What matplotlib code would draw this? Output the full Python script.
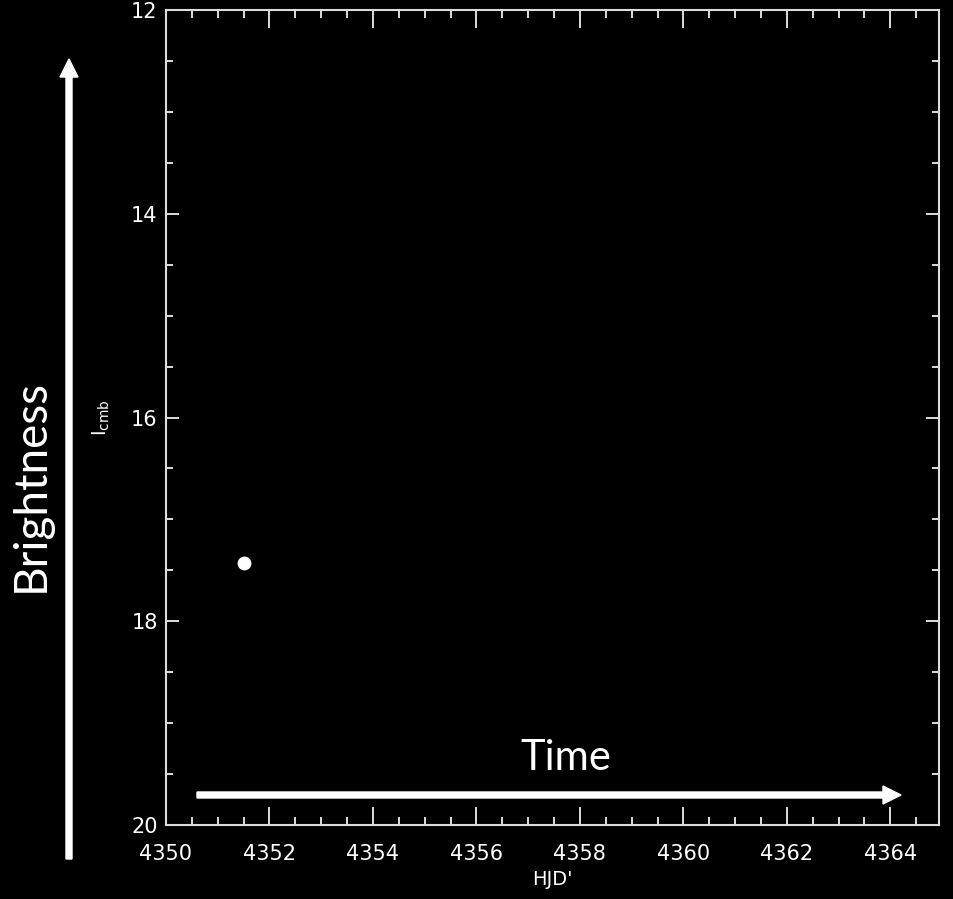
import matplotlib
matplotlib.use("Agg")
import matplotlib.pyplot as plt
from matplotlib.patches import FancyArrow
from matplotlib.transforms import IdentityTransform
from matplotlib.ticker import MultipleLocator

# data
hjd = [4351.51]
mag = [17.43]
x_ticks = [4350, 4352, 4354, 4356, 4358, 4360, 4362, 4364]
y_ticks = [12, 14, 16, 18, 20]

W, H = 954, 899
fig = plt.figure(figsize=(W / 100, H / 100), dpi=100, facecolor="black")
ax = fig.add_axes([166 / W, 1 - 825 / H, (939 - 166) / W, (825 - 10) / H])
ax.set_facecolor("black")

ax.plot(hjd, mag, "o", color="white", markersize=10, markeredgewidth=0)

ax.set_xlim(4350, 4364.94)
ax.set_ylim(20, 12)
ax.set_xticks(x_ticks)
ax.set_xticklabels([str(t) for t in x_ticks])
ax.set_yticks(y_ticks)
ax.set_yticklabels([str(t) for t in y_ticks])
ax.xaxis.set_minor_locator(MultipleLocator(0.5))
ax.yaxis.set_minor_locator(MultipleLocator(0.5))

sc = "#dcdcdc"
for s in ax.spines.values():
    s.set_color(sc)
    s.set_linewidth(1.5)
ax.tick_params(which="both", direction="in", colors=sc, width=1.4,
               top=True, right=True, labelcolor="white", labelsize=15)
ax.tick_params(axis="x", which="major", length=13, pad=14)
ax.tick_params(axis="x", which="minor", length=6)
ax.tick_params(axis="y", which="major", length=9.5, pad=6)
ax.tick_params(axis="y", which="minor", length=5)

ax.set_xlabel("HJD'", color="white", fontsize=14, labelpad=4)
ax.set_ylabel(r"$\mathrm{I}_{\rm cmb}$", color="white", fontsize=14, labelpad=14)

# annotations
fig.text(31 / W, 1 - 485 / H, "Brightness", rotation=90, color="white",
         fontsize=33, family="Lato", ha="center", va="center")
fig.text(566 / W, 1 - 758 / H, "Time", color="white",
         fontsize=30, family="Lato", ha="center", va="center")

fig.add_artist(FancyArrow(69, H - 859, 0, (859 - 59), width=6, head_width=18,
                          head_length=18, length_includes_head=True,
                          color="white", transform=IdentityTransform()))
fig.add_artist(FancyArrow(197, H - 795, (901 - 197), 0, width=6, head_width=18,
                          head_length=18, length_includes_head=True,
                          color="white", transform=IdentityTransform()))

fig.savefig("out.png", dpi=100, facecolor="black")
